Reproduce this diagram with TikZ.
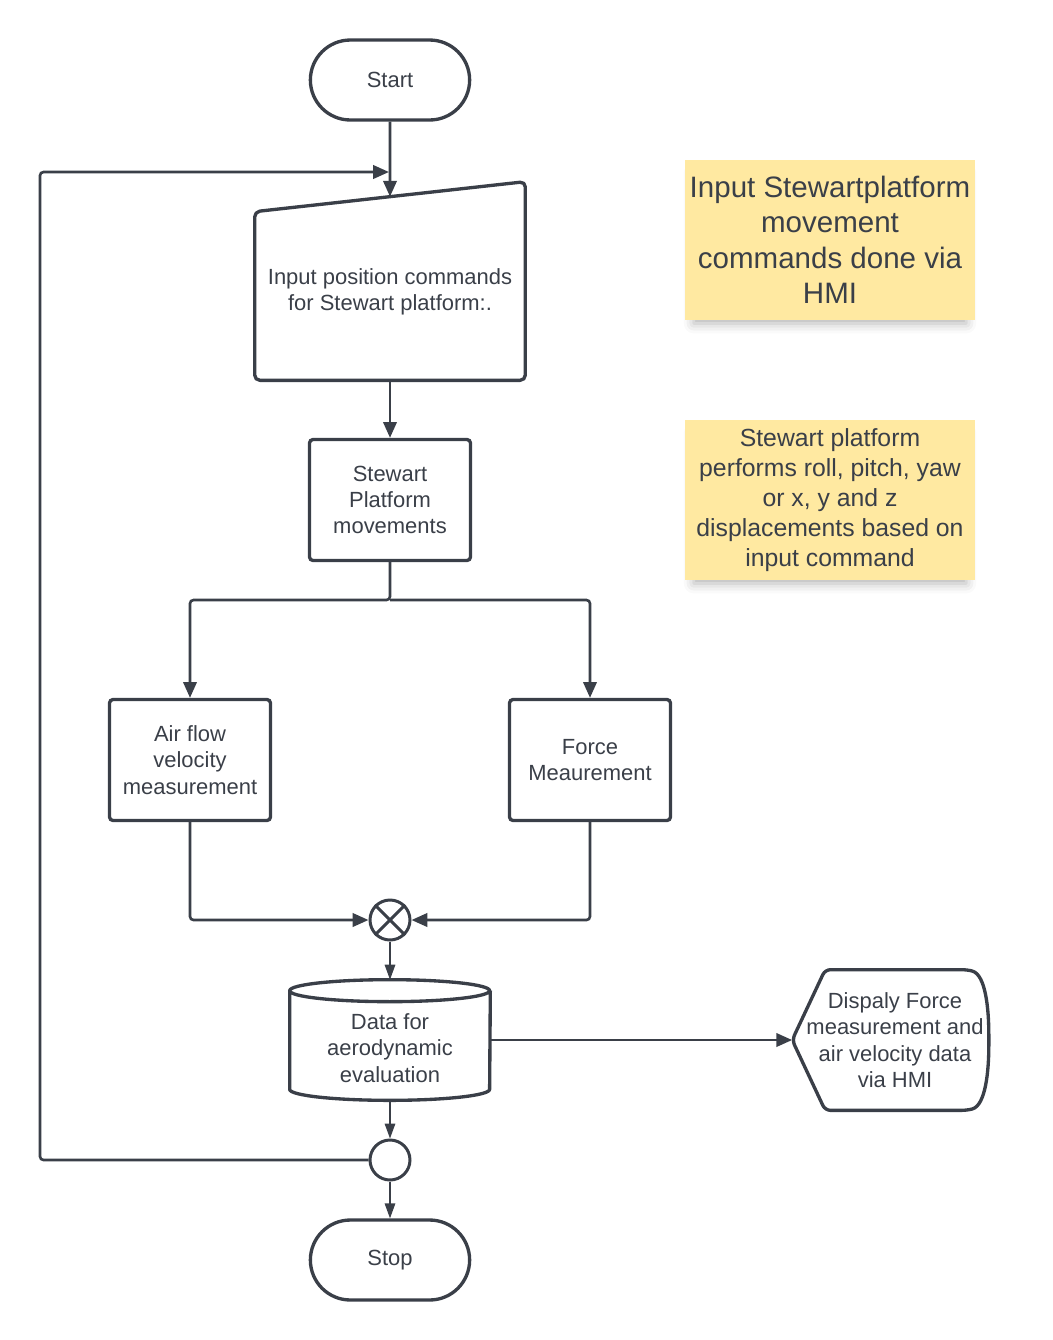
\documentclass[tikz,border=0pt]{standalone}
\usepackage{fontspec}
\setmainfont{Liberation Sans}
\usetikzlibrary{shapes.misc,shapes.geometric,arrows.meta,positioning,calc,shadows.blur}
\definecolor{inkgray}{RGB}{58,63,72}
\definecolor{noteyellow}{RGB}{255,233,161}
\tikzset{
  boxfont/.style={font=\fontsize{12.5}{15}\selectfont, text=inkgray},
  terminal/.style={rounded rectangle, draw=inkgray, line width=1.9pt, minimum width=3.42cm, minimum height=1.6cm, boxfont},
  process/.style={rectangle, draw=inkgray, line width=1.9pt, rounded corners=2pt, minimum width=3.22cm, minimum height=2.42cm, align=center, boxfont},
  junction/.style={circle, draw=inkgray, line width=1.7pt, minimum size=0.8cm, inner sep=0pt},
  outline/.style={draw=inkgray, line width=1.9pt, line join=round},
  flow/.style={draw=inkgray, line width=1.5pt, rounded corners=2pt, -{Triangle[length=9pt,width=7.6pt]}},
  thinflow/.style={draw=inkgray, line width=0.75pt, -{Triangle[length=8.5pt,width=6pt]}},
  note/.style={rectangle, fill=noteyellow, minimum width=5.8cm, minimum height=3.2cm, inner sep=1pt, align=center, text=inkgray,
    blur shadow={shadow xshift=0pt, shadow yshift=-5pt, shadow scale=0.94, shadow blur radius=6pt, shadow opacity=30}},
}
\begin{document}
\begin{tikzpicture}[x=0.02cm, y=0.02cm]
    \useasboundingbox (0,0) rectangle (1053,-1340);

    % Main column
    \node (start) [terminal] at (390,-80) {Start};
    \node (input) [minimum width=5.4cm, minimum height=3.52cm, align=center, boxfont] at (390,-292)
        {Input position commands\\for Stewart platform:.};
    \draw [outline, rounded corners=3pt] (input.south west) -- ($(input.north west)+(0,-8)$)
        -- ($(input.north east)+(0,22)$) -- (input.south east) -- cycle;
    \coordinate (inputtop) at ($(input.north)+(0,7)$);
    \node (platform) [process] at (390,-500) {Stewart\\Platform\\movements};

    % Two measurements
    \coordinate (split) at (390,-600);
    \node (airflow) [process] at (190,-760) {Air flow\\velocity\\measurement};
    \node (force) [process] at (590,-760) {Force\\Meaurement};
    \node (sum) [junction] at (390,-920) {};
    \draw [inkgray, line width=1.7pt] (sum.north east) -- (sum.south west) (sum.north west) -- (sum.south east);

    % Stored data
    \node (data) [minimum width=4cm, minimum height=2.08cm, align=center, boxfont] at (390,-1048)
        {Data for\\aerodynamic\\evaluation};
    \draw [outline] ($(data.north west)+(0,5)$) arc[start angle=180, end angle=-180, x radius=2cm, y radius=0.22cm]
        -- ($(data.south west)+(0,11)$) arc[start angle=180, end angle=360, x radius=2cm, y radius=0.22cm]
        -- ($(data.north east)+(0,5)$);
    \coordinate (datatop) at ($(data.north)+(0,16)$);

    % Display
    \node (disp) [minimum width=4.1cm, minimum height=2.8cm, align=center, boxfont] at (895,-1040)
        {Dispaly Force\\measurement and\\air velocity data\\via HMI};
    \draw [outline, rounded corners=3pt] (disp.west) -- ($(disp.north west)+(33,0)$) -- ($(disp.north west)+(175,0)$)
        .. controls ($(disp.north east)+(-12,-5)$) and ($(disp.east)+(-9,30)$) .. ($(disp.east)+(-9,0)$)
        .. controls ($(disp.east)+(-9,-30)$) and ($(disp.south east)+(-12,5)$) .. ($(disp.south west)+(175,0)$)
        -- ($(disp.south west)+(33,0)$) -- cycle;

    \node (merge) [junction] at (390,-1160) {};
    \node (stop) [terminal] at (390,-1260) {Stop};
    \coordinate (leftrail) at (40,-600);
    \coordinate (loopin) at (389,-172);

    % Connectors
    \draw [flow] (start) -- (inputtop);
    \draw [flow] (input.south) -- (platform.north);
    \draw [flow] (platform.south) -- (split) -| (airflow.north);
    \draw [flow] (split) -| (force.north);
    \draw [flow] (airflow.south) |- (sum.west);
    \draw [flow] (force.south) |- (sum.east);
    \draw [thinflow] (sum.south) -- (datatop);
    \draw [flow] (data.east |- disp.west) -- (disp.west);
    \draw [thinflow] (data.south) -- (merge.north);
    \draw [thinflow] (merge.south) -- (stop.north);
    \draw [flow] (merge.west) -| (leftrail) |- (loopin);

    % Notes
    \node (note1) [note, font=\fontsize{16.8}{20.2}\selectfont] at (830,-240)
        {Input Stewartplatform\\movement\\commands done via\\HMI};
    \node (note2) [note, font=\fontsize{14.1}{17}\selectfont] at (830,-500)
        {Stewart platform\\performs roll, pitch, yaw\\or x, y and z\\displacements based on\\input command};
\end{tikzpicture}
\end{document}
